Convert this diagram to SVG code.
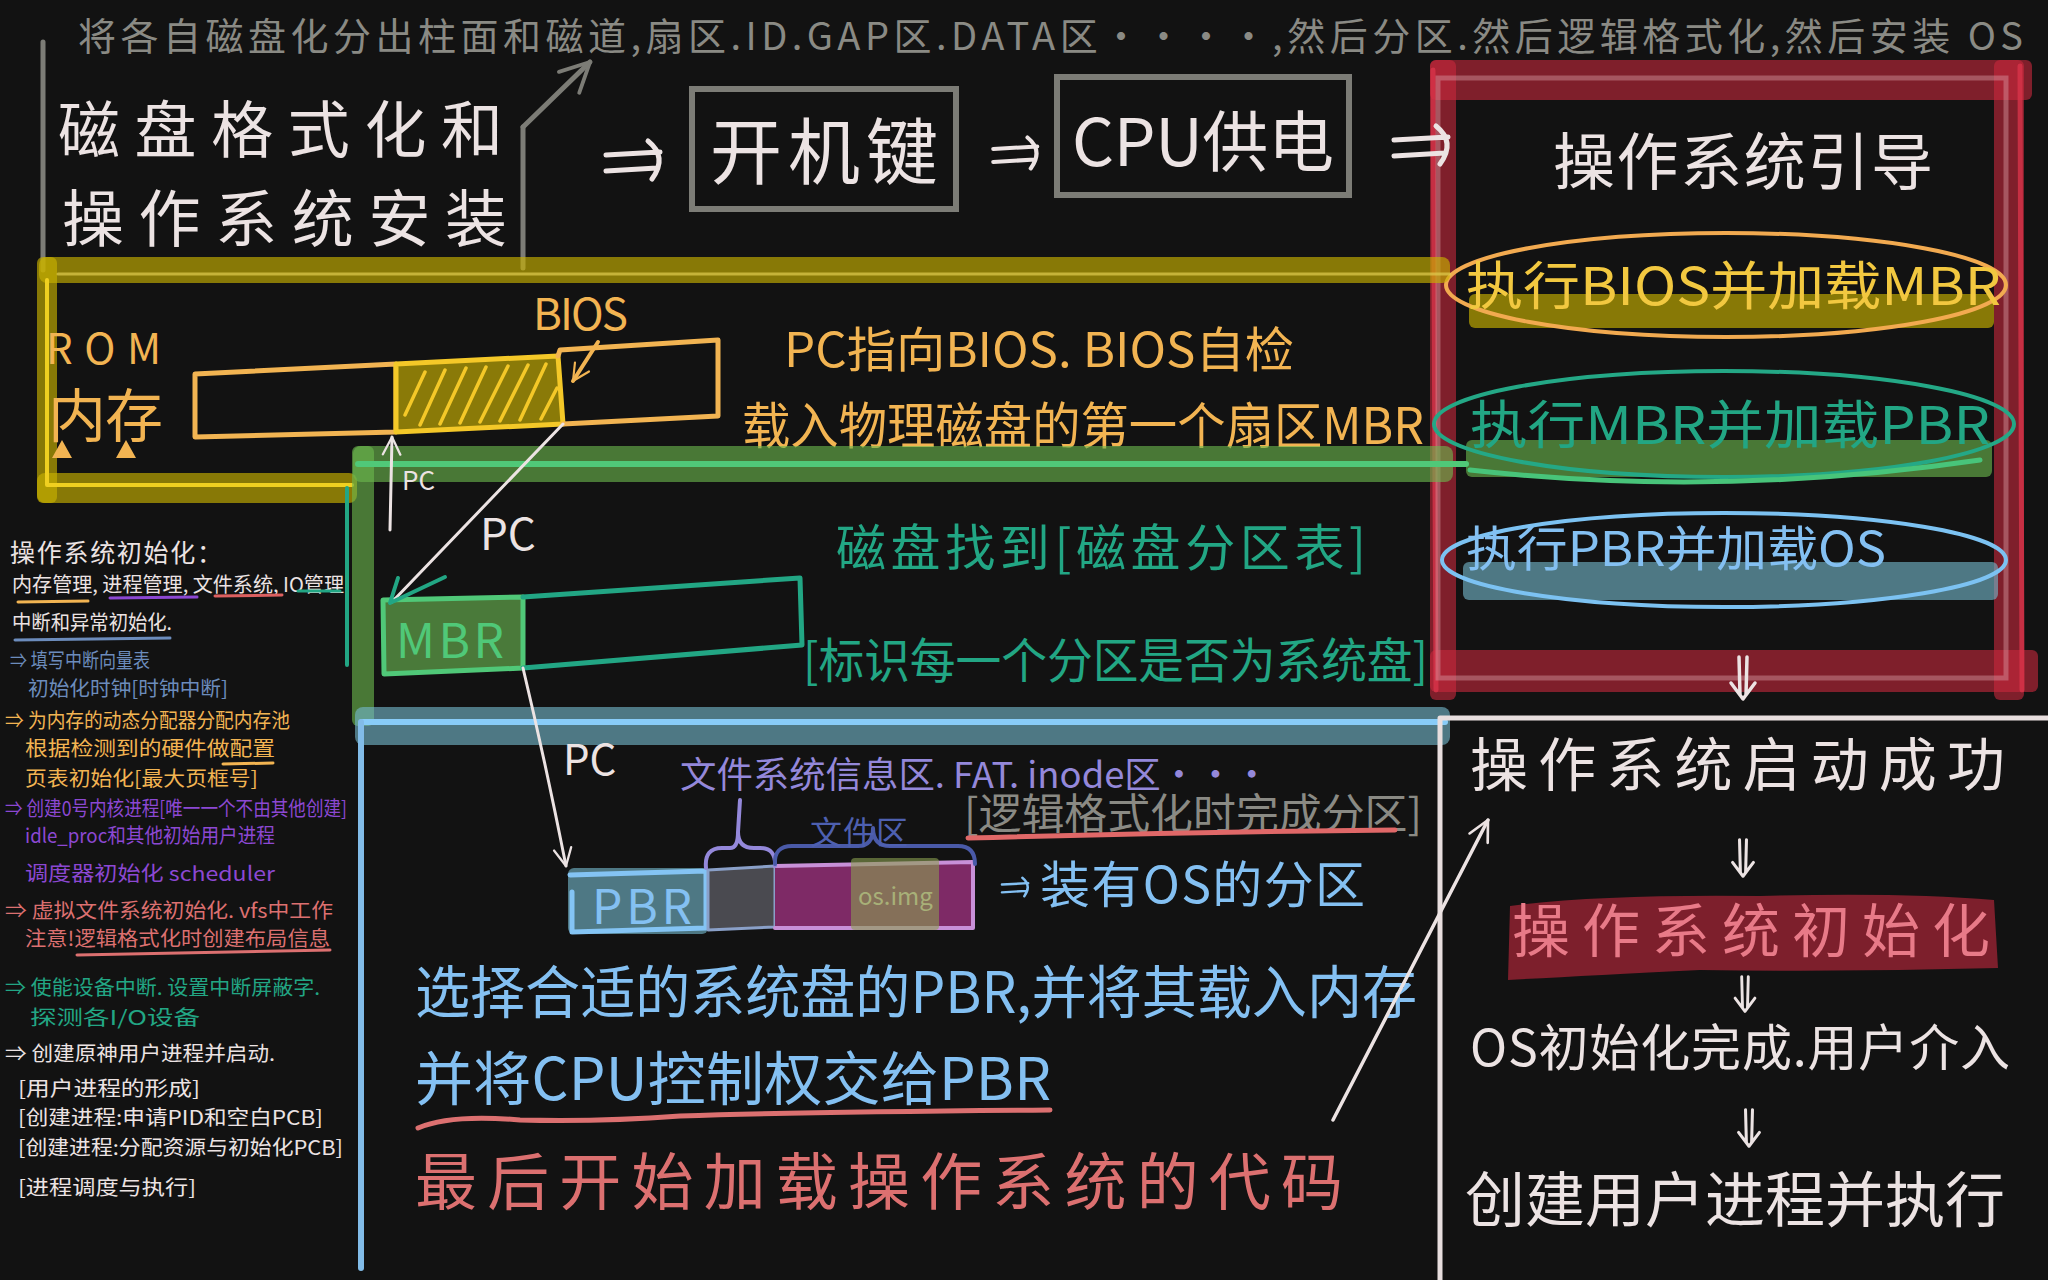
<svg xmlns="http://www.w3.org/2000/svg" width="2048" height="1280" viewBox="0 0 2048 1280">
<defs>
<style>
text{font-family:"Noto Sans CJK SC","Noto Sans","DejaVu Sans",sans-serif;}
.ln{fill:none;stroke-linecap:round;stroke-linejoin:round}
.w{fill:#ece3e3}
.gray{fill:#8a8a84}
.or{fill:#f2b452}
.yl{fill:#f2c840}
.tl{fill:#22a684}
.bl{fill:#84c0f2}
.rd{fill:#dc7070}
.pu{fill:#8c48d2}
.lv{fill:#9488da}
.nb{fill:#6c8cbc}
.note{font-size:20px}
.bandY{fill:#c8b000;opacity:0.65}
.bandG{fill:#6cb84e;opacity:0.62}
.bandB{fill:#74b8cc;opacity:0.62}
.bandR{fill:#c8283c;opacity:0.6}
</style>
<marker id="aw" viewBox="0 0 12 12" refX="11" refY="6" markerWidth="7" markerHeight="7" orient="auto" markerUnits="strokeWidth">
<path d="M1,1 L11,6 L1,11" fill="none" stroke="#ece3e3" stroke-width="1.3" stroke-linecap="round" stroke-linejoin="round"/>
</marker>
<marker id="ag" viewBox="0 0 12 12" refX="11" refY="6" markerWidth="7" markerHeight="7" orient="auto" markerUnits="strokeWidth">
<path d="M1,1 L11,6 L1,11" fill="none" stroke="#7c7c76" stroke-width="1.3" stroke-linecap="round" stroke-linejoin="round"/>
</marker>
<marker id="ao" viewBox="0 0 12 12" refX="11" refY="6" markerWidth="5" markerHeight="5" orient="auto" markerUnits="strokeWidth">
<path d="M1,1 L11,6 L1,11" fill="none" stroke="#f2b452" stroke-width="1.3" stroke-linecap="round" stroke-linejoin="round"/>
</marker>
<symbol id="dblR" viewBox="0 0 70 46" overflow="visible">
<path d="M4,18 L58,15 M4,34 L55,31 M46,4 Q66,20 50,42" fill="none" stroke="currentColor" stroke-width="5" stroke-linecap="round" stroke-linejoin="round"/>
</symbol>
<symbol id="dblD" viewBox="0 0 30 46" overflow="visible">
<path d="M11,2 L12,40 M19,2 L18,40 M3,28 L15,44 L27,28" fill="none" stroke="currentColor" stroke-width="3.5" stroke-linecap="round" stroke-linejoin="round"/>
</symbol>
</defs>
<rect width="2048" height="1280" fill="#121212"/>

<!-- top note -->
<g id="format-note">
<text x="78" y="50" font-size="38" class="gray" textLength="1945" lengthAdjust="spacing">将各自磁盘化分出柱面和磁道,扇区.ID.GAP区.DATA区····,然后分区.然后逻辑格式化,然后安装 OS</text>
</g>

<!-- title box -->
<g id="title-box">
<path class="ln" d="M43,42 L43,270 M523,127 L523,268" stroke="#7c7c76" stroke-width="5"/>
<text x="58" y="153" font-size="62" class="w" textLength="445" lengthAdjust="spacing">磁盘格式化和</text>
<text x="62" y="242" font-size="62" class="w" textLength="445" lengthAdjust="spacing">操作系统安装</text>
</g>

<g id="power-key">
<rect x="692" y="89" width="264" height="120" fill="none" stroke="#7c7c76" stroke-width="6"/>
<text x="710" y="178" font-size="72" class="w" textLength="228" lengthAdjust="spacing">开机键</text>
</g>

<g id="cpu-power">
<rect x="1057" y="77" width="292" height="118" fill="none" stroke="#7c7c76" stroke-width="6"/>
<text x="1072" y="166" font-size="66" class="w" textLength="262" lengthAdjust="spacing">CPU供电</text>
</g>

<!-- OS boot box -->
<g id="os-boot">
<rect x="1430" y="60" width="602" height="40" rx="6" class="bandR"/>
<rect x="1430" y="60" width="26" height="640" rx="6" class="bandR"/>
<rect x="1994" y="60" width="30" height="640" rx="6" class="bandR"/>
<rect x="1430" y="650" width="608" height="42" rx="6" class="bandR"/>
<path class="ln" d="M1433,70 L1436,690 M2020,66 L2022,690" stroke="#d8334a" stroke-width="5" opacity="0.8"/>
<rect x="1438" y="78" width="568" height="600" fill="none" stroke="#d89aa2" stroke-opacity="0.45" stroke-width="5"/>
<text x="1553" y="185" font-size="62" class="w" textLength="380" lengthAdjust="spacing">操作系统引导</text>

<rect x="1469" y="294" width="525" height="34" rx="6" class="bandY"/>
<ellipse cx="1726" cy="285" rx="280" ry="52" fill="none" stroke="#f2aa50" stroke-width="4"/>
<text x="1466" y="305" font-size="52" class="yl" textLength="535" lengthAdjust="spacingAndGlyphs">执行BIOS并加载MBR</text>

<rect x="1466" y="440" width="526" height="37" rx="6" class="bandG"/>
<ellipse cx="1724" cy="424" rx="290" ry="53" fill="none" stroke="#24a886" stroke-width="4"/>
<path class="ln" d="M1470,470 Q1720,498 1980,460" stroke="#48c47a" stroke-width="5"/>
<text x="1470" y="444" font-size="52" class="tl" textLength="520" lengthAdjust="spacingAndGlyphs">执行MBR并加载PBR</text>

<rect x="1463" y="562" width="535" height="38" rx="6" class="bandB"/>
<ellipse cx="1724" cy="560" rx="282" ry="47" fill="none" stroke="#7cc2f2" stroke-width="4"/>
<text x="1466" y="566" font-size="48" class="bl" textLength="420" lengthAdjust="spacingAndGlyphs">执行PBR并加载OS</text>
</g>

<!-- ROM section -->
<g id="rom-bios">
<rect x="39" y="257" width="1411" height="26" rx="8" class="bandY"/>
<rect x="37" y="257" width="20" height="246" rx="6" class="bandY"/>
<rect x="37" y="473" width="320" height="30" rx="8" class="bandY"/>
<path class="ln" d="M58,274 L1450,274" stroke="#e0cc50" stroke-width="3" opacity="0.7"/>
<path class="ln" d="M47,280 L47,485 L352,485" stroke="#f0d020" stroke-width="4"/>
<text x="46" y="364" font-size="42" class="or" textLength="115" lengthAdjust="spacing">ROM</text>
<text x="48" y="437" font-size="58" class="or" textLength="115" lengthAdjust="spacing">内存</text>
<path d="M52,458 L62,440 L72,458 Z M116,458 L126,440 L136,458 Z" fill="#f2b452"/>
<path class="ln" d="M195,374 L396,364 L396,432 L195,437 Z" stroke="#f2b452" stroke-width="5"/>
<path d="M396,364 L558,356 L563,424 L396,432 Z" fill="#8a7a08" stroke="#f4c828" stroke-width="5" stroke-linejoin="round"/>
<path class="ln" d="M405,415 L425,372 M420,425 L445,370 M440,424 L466,368 M460,423 L486,367 M480,422 L508,366 M500,421 L528,365 M520,420 L546,364 M541,419 L557,388" stroke="#f4c828" stroke-width="3.5"/>
<path class="ln" d="M558,356 L560,350 L718,340 L718,416 L563,424" stroke="#f2b452" stroke-width="5"/>
<text x="533" y="330" font-size="44" class="or" textLength="95" lengthAdjust="spacing">BIOS</text>
<text x="784" y="367" font-size="48" class="or" textLength="510" lengthAdjust="spacingAndGlyphs">PC指向BIOS.  BIOS自检</text>
<text x="742" y="444" font-size="50" class="or" textLength="682" lengthAdjust="spacingAndGlyphs">载入物理磁盘的第一个扇区MBR</text>
</g>

<!-- MBR section -->
<g id="mbr">
<rect x="353" y="446" width="1100" height="36" rx="8" class="bandG"/>
<rect x="352" y="446" width="22" height="280" rx="6" class="bandG"/>
<path class="ln" d="M358,464 L1466,464" stroke="#50c878" stroke-width="6"/>
<path class="ln" d="M347,488 L347,665" stroke="#22a684" stroke-width="4"/>
<path d="M383,600 L523,597 L523,668 L384,674 Z" fill="#4a7a3a" stroke="#50c878" stroke-width="5" stroke-linejoin="round"/>
<text x="396" y="658" font-size="48" fill="#50c878" textLength="108" lengthAdjust="spacing">MBR</text>
<path class="ln" d="M523,597 L800,578 L802,645 L523,668" stroke="#22a684" stroke-width="5"/>
<text x="836" y="566" font-size="50" class="tl" textLength="530" lengthAdjust="spacing">磁盘找到[磁盘分区表]</text>
<text x="803" y="678" font-size="48" class="tl" textLength="625" lengthAdjust="spacingAndGlyphs">[标识每一个分区是否为系统盘]</text>
</g>

<!-- PBR section -->
<g id="pbr">
<rect x="355" y="707" width="1095" height="38" rx="8" class="bandB"/>
<path class="ln" d="M362,722 L1445,722" stroke="#88ccf8" stroke-width="6"/>
<path class="ln" d="M361,722 L361,1268" stroke="#82bce8" stroke-width="6"/>
<rect x="568" y="868" width="140" height="66" rx="6" class="bandB"/>
<path class="ln" d="M570,875 L706,871 L706,928 L572,932 M572,892 L572,932" stroke="#84c4f4" stroke-width="5"/>
<text x="592" y="924" font-size="48" class="bl" textLength="100" lengthAdjust="spacing">PBR</text>
<path d="M708,870 L775,866 L775,927 L708,930 Z" fill="#4a4a50" stroke="#8aa0c8" stroke-width="3" stroke-linejoin="round"/>
<path d="M775,866 L973,862 L973,928 L775,928 Z" fill="#7e2a66"/>
<path class="ln" d="M775,866 L973,862 L973,928 L775,928" stroke="#c890d8" stroke-width="4"/>
<rect x="851" y="858" width="88" height="72" rx="4" fill="#8aa050" opacity="0.6"/>
<text x="858" y="905" font-size="24" fill="#a8b078">os.img</text>
<path class="ln" d="M706,868 Q704,848 722,848 L730,848 Q738,848 738,832 L740,800 M738,832 Q738,848 754,848 L760,848 Q776,848 775,866" stroke="#9488da" stroke-width="4"/>
<path class="ln" d="M775,864 Q774,846 792,846 L858,846 Q873,846 873,828 Q873,846 890,846 L958,846 Q975,846 975,864" stroke="#4a5aa8" stroke-width="4"/>
<text x="680" y="788" font-size="36" class="lv" textLength="590" lengthAdjust="spacingAndGlyphs">文件系统信息区. FAT. inode区···</text>
<text x="810" y="844" font-size="32" fill="#4e60b0" textLength="98" lengthAdjust="spacing">文件区</text>
<text x="964" y="829" font-size="42" class="gray" textLength="458" lengthAdjust="spacingAndGlyphs">[逻辑格式化时完成分区]</text>
<path class="ln" d="M968,838 Q1180,832 1395,830" stroke="#e06868" stroke-width="5"/>
<text x="1040" y="903" font-size="50" class="bl" textLength="325" lengthAdjust="spacing">装有OS的分区</text>
<text x="415" y="1013" font-size="57" class="bl" textLength="1002" lengthAdjust="spacingAndGlyphs">选择合适的系统盘的PBR,并将其载入内存</text>
<text x="415" y="1100" font-size="58" class="bl" textLength="636" lengthAdjust="spacing">并将CPU控制权交给PBR</text>
<path class="ln" d="M418,1128 Q450,1114 520,1120 Q600,1122 680,1116 Q800,1112 1050,1110" stroke="#dc7070" stroke-width="5"/>
<text x="415" y="1205" font-size="62" class="rd" textLength="928" lengthAdjust="spacing">最后开始加载操作系统的代码</text>
</g>

<!-- OS start result section -->
<g id="os-start">
<path class="ln" d="M1440,718 L2048,718 M1440,718 L1440,1280" stroke="#e8dede" stroke-width="5"/>
<text x="1470" y="786" font-size="58" class="w" textLength="535" lengthAdjust="spacing">操作系统启动成功</text>
<path d="M1510,906 Q1600,894 1760,896 Q1900,892 1994,900 L1998,968 Q1850,972 1700,970 Q1580,976 1508,980 Z" fill="#7d1f2c"/>
<text x="1512" y="952" font-size="58" fill="#e87a88" textLength="478" lengthAdjust="spacing">操作系统初始化</text>
<text x="1470" y="1066" font-size="50" class="w" textLength="540" lengthAdjust="spacing">OS初始化完成.用户介入</text>
<text x="1465" y="1222" font-size="60" class="w" textLength="540" lengthAdjust="spacing">创建用户进程并执行</text>
</g>

<!-- left notes -->
<g id="init-notes" class="note">
<text x="10" y="562" font-size="25" class="w" textLength="212" lengthAdjust="spacing">操作系统初始化：</text>
<text x="12" y="592" class="w" textLength="332" lengthAdjust="spacingAndGlyphs">内存管理, 进程管理, 文件系统, IO管理</text>
<path class="ln" d="M18,602 L88,601" stroke="#f2b452" stroke-width="3"/>
<path class="ln" d="M110,598 L197,597" stroke="#8c48d2" stroke-width="3"/>
<path class="ln" d="M215,596 L282,595" stroke="#dc6060" stroke-width="3"/>
<path class="ln" d="M298,591 L340,591" stroke="#22a684" stroke-width="3"/>
<text x="12" y="630" class="w" textLength="160" lengthAdjust="spacingAndGlyphs">中断和异常初始化.</text>
<path class="ln" d="M15,640 L170,638" stroke="#6c8cbc" stroke-width="3"/>
<text x="10" y="668" class="nb" textLength="140" lengthAdjust="spacingAndGlyphs">⇒ 填写中断向量表</text>
<text x="28" y="696" class="nb" textLength="200" lengthAdjust="spacingAndGlyphs">初始化时钟[时钟中断]</text>
<text x="5" y="728" class="or" textLength="285" lengthAdjust="spacingAndGlyphs">⇒ 为内存的动态分配器分配内存池</text>
<text x="25" y="756" class="or" textLength="250" lengthAdjust="spacingAndGlyphs">根据检测到的硬件做配置</text>
<path class="ln" d="M223,764 L273,763" stroke="#f2b452" stroke-width="3"/>
<text x="25" y="786" class="or" textLength="233" lengthAdjust="spacingAndGlyphs">页表初始化[最大页框号]</text>
<text x="5" y="816" class="pu" textLength="342" lengthAdjust="spacingAndGlyphs">⇒ 创建0号内核进程[唯一一个不由其他创建]</text>
<text x="25" y="843" class="pu" textLength="250" lengthAdjust="spacingAndGlyphs">idle_proc和其他初始用户进程</text>
<text x="25" y="881" class="pu" textLength="250" lengthAdjust="spacingAndGlyphs">调度器初始化  scheduler</text>
<text x="5" y="918" class="rd" textLength="328" lengthAdjust="spacingAndGlyphs">⇒ 虚拟文件系统初始化. vfs中工作</text>
<text x="25" y="946" class="rd" textLength="305" lengthAdjust="spacingAndGlyphs">注意!逻辑格式化时创建布局信息</text>
<path class="ln" d="M77,955 L330,950" stroke="#dc7070" stroke-width="3"/>
<text x="5" y="995" class="tl" textLength="315" lengthAdjust="spacingAndGlyphs">⇒ 使能设备中断. 设置中断屏蔽字.</text>
<text x="30" y="1025" class="tl" textLength="170" lengthAdjust="spacingAndGlyphs">探测各I/O设备</text>
<text x="5" y="1061" class="w" textLength="270" lengthAdjust="spacingAndGlyphs">⇒ 创建原神用户进程并启动.</text>
<text x="18" y="1096" class="w" textLength="182" lengthAdjust="spacingAndGlyphs">[用户进程的形成]</text>
<text x="18" y="1125" class="w" textLength="305" lengthAdjust="spacingAndGlyphs">[创建进程:申请PID和空白PCB]</text>
<text x="18" y="1155" class="w" textLength="325" lengthAdjust="spacingAndGlyphs">[创建进程:分配资源与初始化PCB]</text>
<text x="18" y="1195" class="w" textLength="178" lengthAdjust="spacingAndGlyphs">[进程调度与执行]</text>
</g>

<!-- connectors -->
<g id="connectors">
<path class="ln" d="M523,127 L590,62" stroke="#7c7c76" stroke-width="5" marker-end="url(#ag)"/>
<use href="#dblR" x="601" y="137" width="72" height="46" color="#ece3e3"/>
<use href="#dblR" x="990" y="130" width="57" height="46" color="#ece3e3"/>
<use href="#dblR" x="1380" y="122" width="90" height="46" color="#ece3e3"/>
<use href="#dblD" x="1728" y="655" width="30" height="46" color="#ece3e3"/>
<use href="#dblD" x="1728" y="838" width="30" height="40" color="#ece3e3"/>
<use href="#dblD" x="1730" y="975" width="30" height="38" color="#ece3e3"/>
<use href="#dblD" x="1734" y="1108" width="30" height="40" color="#ece3e3"/>
<use href="#dblR" x="1000" y="872" width="34" height="30" color="#84c0f2"/>
<path class="ln" d="M598,342 L573,381" stroke="#f2b452" stroke-width="4" marker-end="url(#ao)"/>
<path class="ln" d="M390,530 L392,437" stroke="#ece3e3" stroke-width="3" marker-end="url(#aw)"/>
<text x="402" y="490" font-size="26" class="w">PC</text>
<path class="ln" d="M563,424 L392,602" stroke="#ece3e3" stroke-width="3"/>
<path class="ln" d="M398,578 L390,603 L445,577" stroke="#22a684" stroke-width="4"/>
<text x="480" y="550" font-size="44" class="w">PC</text>
<path class="ln" d="M523,668 Q545,760 566,866" stroke="#ece3e3" stroke-width="3" marker-end="url(#aw)"/>
<text x="563" y="775" font-size="42" class="w">PC</text>
<path class="ln" d="M1333,1120 L1488,820" stroke="#ece3e3" stroke-width="3.5" marker-end="url(#aw)"/>
</g>
</svg>
